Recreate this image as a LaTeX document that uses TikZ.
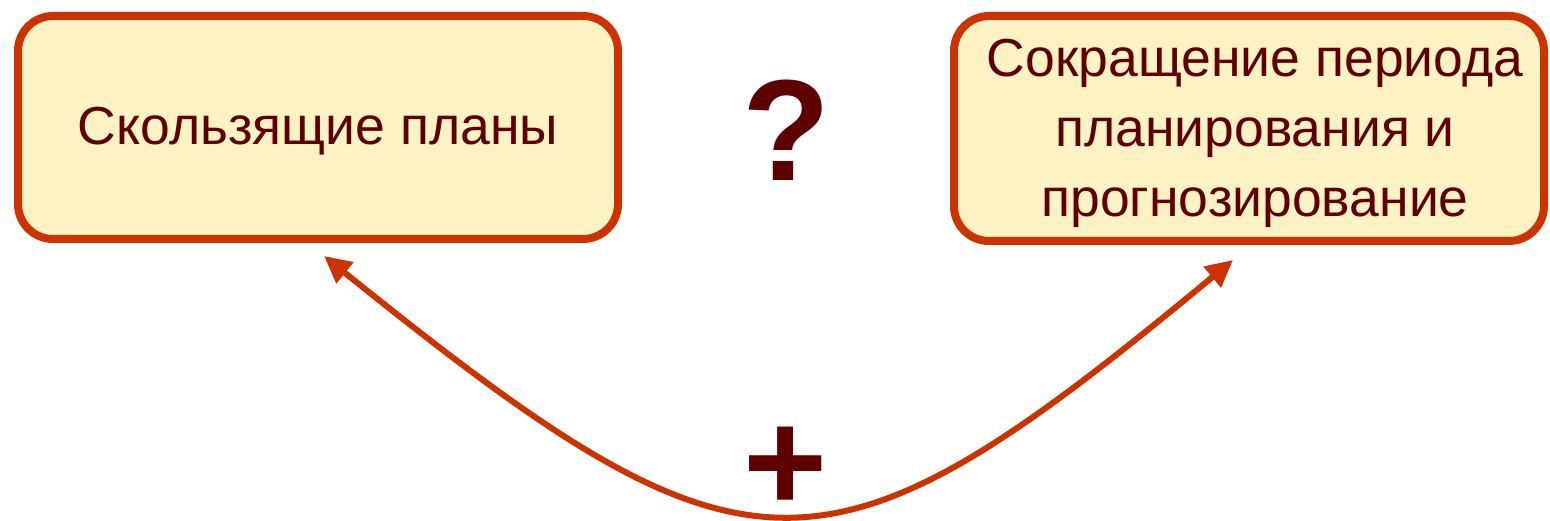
\documentclass[tikz,border=0pt]{standalone}
\usepackage{fontspec}
\setmainfont{Liberation Sans}
\usetikzlibrary{arrows.meta}

\definecolor{boxline}{HTML}{CC3300}
\definecolor{boxfill}{HTML}{FCF2C4}
\definecolor{darktext}{HTML}{5E0000}

\begin{document}
\begin{tikzpicture}[x=1pt,y=1pt,
    planbox/.style={draw=boxline,fill=boxfill,line width=8pt,rounded corners=35pt,inner sep=0pt},
    boxtext/.style={align=center,text=darktext,font=\fontsize{53.5}{70}\selectfont,inner sep=0pt},
    bigsign/.style={text=darktext,font=\fontsize{144}{144}\selectfont\bfseries,inner sep=0pt}]
  \useasboundingbox (0,0) rectangle (1550,520);

  \node[planbox,minimum width=600pt,minimum height=223pt] (skol) at (318,392.5) {};
  \node[boxtext] (skoltext) at ([yshift=-4pt]skol.center) {Скользящие планы};
  \node[planbox,minimum width=590pt,minimum height=225pt] (sokr) at (1249,391.5) {};
  \node[boxtext] (sokrtext) at ([xshift=6pt,yshift=-5pt]sokr.center)
    {Сокращение периода\\планирования и\\прогнозирование};

  \node[bigsign] (quest) at (786,390) {?};
  \node[bigsign] (plus) at (786,51) {+};

  \coordinate (tipL) at (324,264);
  \coordinate (tipR) at (1233,260);

  \draw[boxline,line width=6pt,{Triangle[length=27pt,width=26pt]}-{Triangle[length=27pt,width=26pt]}]
    (tipL) .. controls (750,-79) and (824,-79) .. (tipR);
\end{tikzpicture}
\end{document}
